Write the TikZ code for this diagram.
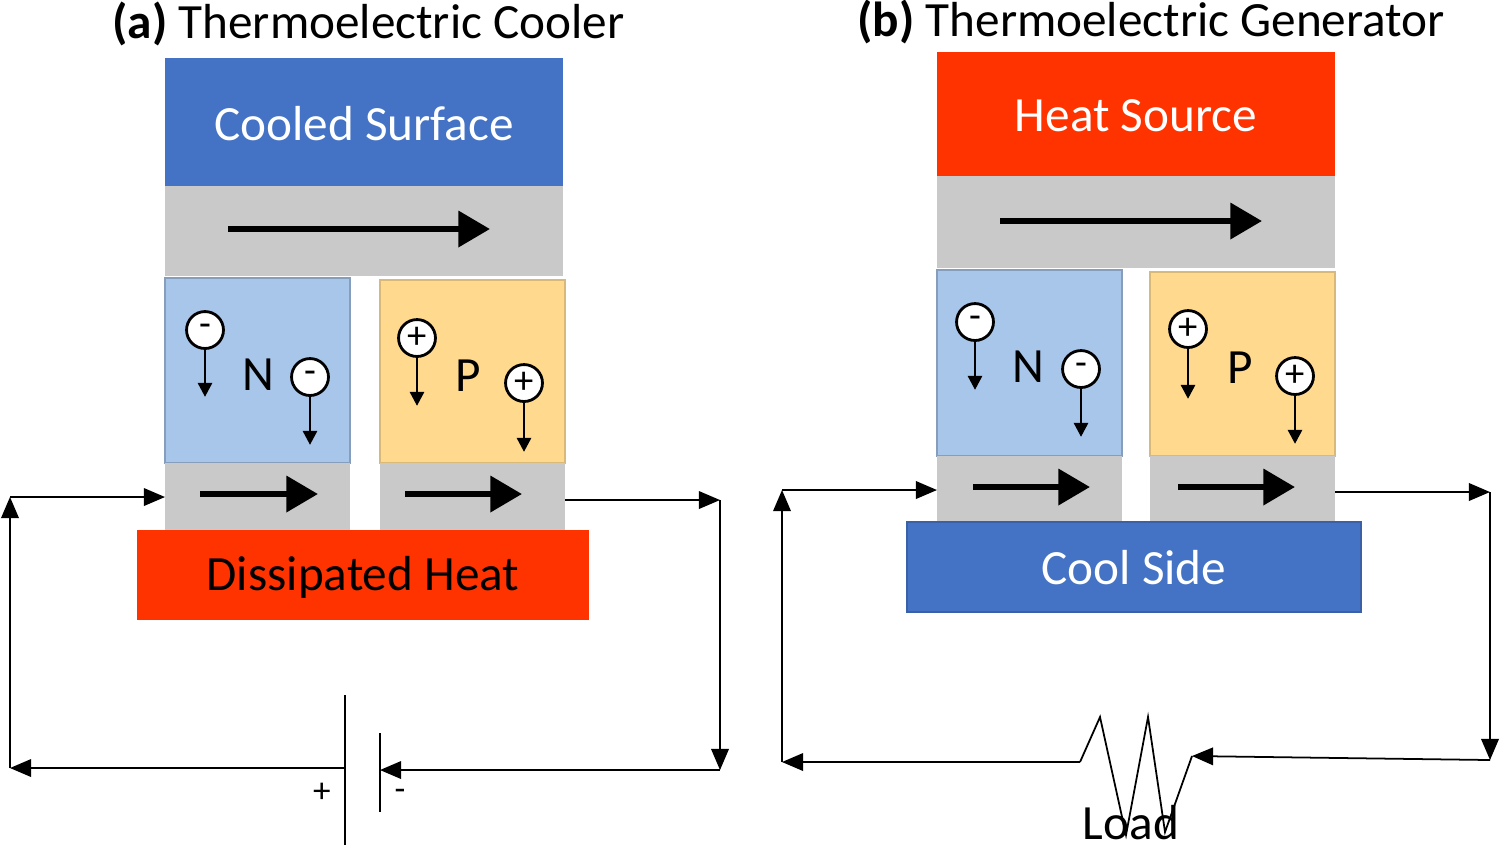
\documentclass[tikz,border=0pt]{standalone}
\usepackage{fontspec}
\setmainfont{Carlito}
\usetikzlibrary{arrows.meta}
\definecolor{tblue}{HTML}{4472C4}
\definecolor{tred}{HTML}{FF3300}
\definecolor{tgray}{HTML}{C9C9C9}
\definecolor{nleg}{HTML}{A8C5EA}
\definecolor{pleg}{HTML}{FFDA8E}
\tikzset{
  heavy/.style={line width=1.8pt,-{Triangle[length=9pt,width=10pt]}},
  wire/.style={line width=0.5pt,-{Triangle[length=6pt,width=5pt]}},
  plain/.style={line width=0.5pt},
  chg/.style={circle,draw,fill=white,line width=0.8pt,minimum size=10.5pt,inner sep=0pt,font=\fontsize{11}{11}\selectfont},
  drift/.style={line width=0.8pt,-{Triangle[length=4pt,width=4pt]}},
  big/.style={font=\fontsize{14}{14}\selectfont},
  ttl/.style={font=\fontsize{14}{14}\selectfont,anchor=west}
}
\begin{document}
\begin{tikzpicture}[x=0.01cm,y=-0.01cm]
\useasboundingbox (0,0) rectangle (1504,853);
% ---------- (a) cooler ----------
\node[ttl] (ta) at (100,24) {\textbf{(a)} Thermoelectric Cooler};
\fill[tblue] (165,58) rectangle (563,186);
\node[big,text=white] (cs) at (364,124) {Cooled Surface};
\fill[tgray] (165,186) rectangle (563,276);
\coordinate (a1) at (228,229); \coordinate (a2) at (490,229);
\draw[heavy] (a1) -- (a2);
\filldraw[fill=nleg,draw=nleg!80!black] (165,278) rectangle (350,463);
\filldraw[fill=pleg,draw=pleg!85!black] (380,280) rectangle (565,463);
\fill[tgray] (165,463) rectangle (350,530);
\fill[tgray] (380,463) rectangle (565,530);
\coordinate (a3) at (200,494); \coordinate (a4) at (318,494);
\coordinate (a5) at (405,494); \coordinate (a6) at (522,494);
\draw[heavy] (a3) -- (a4);
\draw[heavy] (a5) -- (a6);
\fill[tred] (137,530) rectangle (589,620);
\node[big] (dh) at (363,577) {Dissipated Heat};
% charges
\node[big] (na) at (258,375) {N};
\node[big] (pa) at (468,376) {P};
\node[chg] (c1) at (205,330) {-};
\node[chg] (c2) at (310,377) {-};
\node[chg] (c3) at (417,338) {+};
\node[chg] (c4) at (524,383) {+};
\draw[drift] (c1.south) -- ++(0,47);
\draw[drift] (c2.south) -- ++(0,48);
\draw[drift] (c3.south) -- ++(0,48);
\draw[drift] (c4.south) -- ++(0,49);
% circuit
\coordinate (bp) at (345,768); \coordinate (bm) at (380,770);
\coordinate (la) at (10,768); \coordinate (lb) at (10,497);
\coordinate (li) at (165,497);
\coordinate (ro) at (565,500); \coordinate (rb) at (720,500);
\coordinate (rc) at (720,770);
\draw[wire] (bp) -- (la);
\draw[wire] (la) -- (lb);
\draw[wire] (lb) -- (li);
\draw[wire] (ro) -- (rb);
\draw[wire] (rb) -- (rc);
\draw[wire] (rc) -- (bm);
\draw[plain] (345,695) -- (345,845);
\draw[plain] (380,733) -- (380,812);
\node[font=\fontsize{10}{10}\selectfont] (pl) at (322,793) {+};
\node[font=\fontsize{10}{10}\selectfont] (mi) at (400,795) {-};
% ---------- (b) generator ----------
\node[ttl] (tb) at (845,22) {\textbf{(b)} Thermoelectric Generator};
\fill[tred] (937,52) rectangle (1335,176);
\node[big,text=white] (hs) at (1136,116) {Heat Source};
\fill[tgray] (937,176) rectangle (1335,268);
\coordinate (b1) at (1000,221); \coordinate (b2) at (1262,221);
\draw[heavy] (b1) -- (b2);
\filldraw[fill=nleg,draw=nleg!80!black] (937,270) rectangle (1122,456);
\filldraw[fill=pleg,draw=pleg!85!black] (1150,272) rectangle (1335,456);
\fill[tgray] (937,456) rectangle (1122,522);
\fill[tgray] (1150,456) rectangle (1335,522);
\coordinate (b3) at (973,487); \coordinate (b4) at (1090,487);
\coordinate (b5) at (1178,487); \coordinate (b6) at (1295,487);
\draw[heavy] (b3) -- (b4);
\draw[heavy] (b5) -- (b6);
\filldraw[fill=tblue,draw=tblue!85!black] (907,522) rectangle (1361,612);
\node[big,text=white] (cd) at (1134,568) {Cool Side};
\node[big] (nb) at (1028,367) {N};
\node[big] (pb) at (1240,368) {P};
\node[chg] (d1) at (975,322) {-};
\node[chg] (d2) at (1081,369) {-};
\node[chg] (d3) at (1188,329) {+};
\node[chg] (d4) at (1295,376) {+};
\draw[drift] (d1.south) -- ++(0,48);
\draw[drift] (d2.south) -- ++(0,48);
\draw[drift] (d3.south) -- ++(0,50);
\draw[drift] (d4.south) -- ++(0,48);
\coordinate (ra) at (1080,762); \coordinate (rz) at (1192,756);
\coordinate (ma) at (782,762); \coordinate (mb) at (782,490);
\coordinate (mi2) at (937,490);
\coordinate (mo) at (1335,492); \coordinate (mr) at (1490,492);
\coordinate (ms) at (1490,760);
\draw[wire] (ra) -- (ma);
\draw[wire] (ma) -- (mb);
\draw[wire] (mb) -- (mi2);
\draw[wire] (mo) -- (mr);
\draw[wire] (mr) -- (ms);
\draw[wire] (ms) -- (rz);
\draw[plain] (ra) -- (1100,717) -- (1126,835) -- (1148,717) -- (1165,832) -- (rz);
\node[font=\fontsize{14}{14}\selectfont] (ld) at (1131,823) {Load};
\end{tikzpicture}
\end{document}
